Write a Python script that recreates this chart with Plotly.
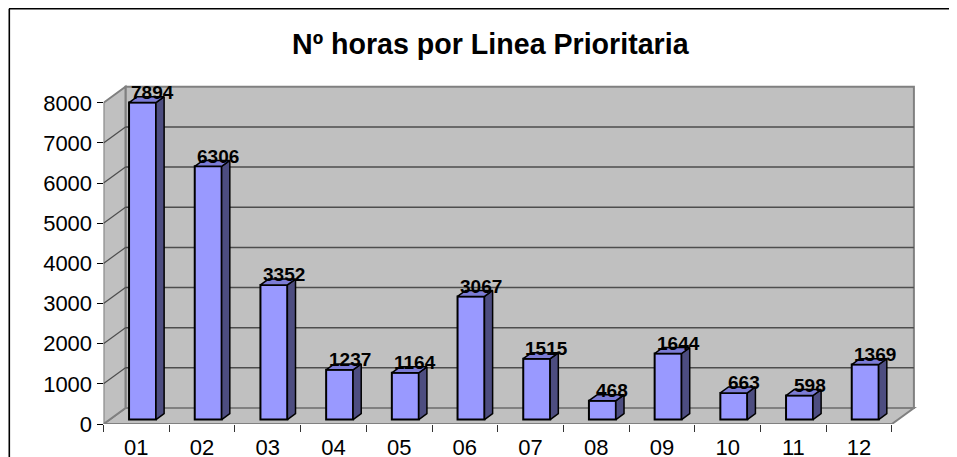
import plotly.graph_objects as go

# ---------------- data ----------------
categories = ["01", "02", "03", "04", "05", "06", "07", "08", "09", "10", "11", "12"]
hours = [7894, 6306, 3352, 1237, 1164, 3067, 1515, 468, 1644, 663, 598, 1369]
y_ticks = [0, 1000, 2000, 3000, 4000, 5000, 6000, 7000, 8000]
title_text = "Nº horas por Linea Prioritaria"

# ---------------- geometry / style ----------------
W, H = 957, 457
# observed placement of the figure in the screenshot (page margin / height)
OX, OY, HE = 7.5, 7.0, 444.0

def fx(sx):
    return (sx - OX) / W

def fy(sy):
    return 1 - (sy - OY) / HE

X0_PX = 103          # front-left floor corner (screen px)
Y0_PX = 423          # front floor edge (screen px)
CAT_PX = 65.7        # px per category
PX_PER_UNIT = 0.04015
DEPTH_PX = (22, 16)  # back wall offset (right, up) in px

FONT = "Liberation Sans, Arial, sans-serif"
WALL = "#C0C0C0"
EDGE = "#808080"
GRID = "#4D4D4D"
BAR_FRONT = "#9999FF"
BAR_SIDE = "#4D4D80"
BAR_TOP = "#7C7CD6"

n = len(categories)
x_range_max = (OX + W - X0_PX) / CAT_PX
y_range_max = (Y0_PX - OY) / PX_PER_UNIT
bdx = DEPTH_PX[0] / CAT_PX
bdy = DEPTH_PX[1] / PX_PER_UNIT
top = max(y_ticks)

bar_d0, bar_d1 = 0.28, 0.65
bar_w = 0.41

xs = [i + 0.5 + bar_d0 * bdx for i in range(n)]
base = bar_d0 * bdy
ddx = (bar_d1 - bar_d0) * bdx
ddy = (bar_d1 - bar_d0) * bdy

fig = go.Figure()

fig.add_trace(go.Bar(
    x=xs, y=hours, base=[base] * n, width=bar_w,
    marker=dict(color=BAR_FRONT, line=dict(color="black", width=2)),
    hovertext=categories, showlegend=False,
))

sx, sy, tx, ty = [], [], [], []
for x, v in zip(xs, hours):
    xl, xr = x - bar_w / 2, x + bar_w / 2
    yb, yt = base, base + v
    sx += [xr, xr + ddx, xr + ddx, xr, xr, None]
    sy += [yb, yb + ddy, yt + ddy, yt, yb, None]
    tx += [xl, xl + ddx, xr + ddx, xr, xl, None]
    ty += [yt, yt + ddy, yt + ddy, yt, yt, None]

fig.add_trace(go.Scatter(x=sx, y=sy, mode="lines", fill="toself", fillcolor=BAR_SIDE,
                         line=dict(color="black", width=1.5), hoverinfo="skip", showlegend=False))
fig.add_trace(go.Scatter(x=tx, y=ty, mode="lines", fill="toself", fillcolor=BAR_TOP,
                         line=dict(color="black", width=1.5), hoverinfo="skip", showlegend=False))

# ---------------- walls & floor ----------------
shapes = []
def poly(pts, fill, line_col=EDGE, width=2):
    path = "M " + " L ".join(f"{x},{y}" for x, y in pts) + " Z"
    shapes.append(dict(type="path", path=path, xref="x", yref="y", layer="below",
                       fillcolor=fill, line=dict(color=line_col, width=width)))

poly([(0, 0), (n, 0), (n + bdx, bdy), (bdx, bdy)], WALL)
poly([(bdx, bdy), (n + bdx, bdy), (n + bdx, top + bdy), (bdx, top + bdy)], WALL)
poly([(0, 0), (bdx, bdy), (bdx, top + bdy), (0, top)], WALL)

for v in y_ticks[1:-1]:
    shapes.append(dict(type="line", xref="x", yref="y", layer="below",
                       x0=bdx, x1=n + bdx, y0=v + bdy, y1=v + bdy,
                       line=dict(color=GRID, width=1.5)))
    shapes.append(dict(type="line", xref="x", yref="y", layer="below",
                       x0=0, x1=bdx, y0=v, y1=v + bdy,
                       line=dict(color=GRID, width=1.2)))

# outer chart border: top and left edges (right/bottom lie outside the picture)
shapes.append(dict(type="line", xref="paper", yref="paper",
                   x0=fx(8.5), x1=1.2, y0=fy(7.8), y1=fy(7.8),
                   line=dict(color="black", width=1.6)))
shapes.append(dict(type="line", xref="paper", yref="paper",
                   x0=fx(8.8), x1=fx(8.8), y0=-0.2, y1=fy(7.8),
                   line=dict(color="black", width=1.6)))

# ---------------- annotations ----------------
annotations = [dict(
    text=title_text, xref="paper", yref="paper", x=fx(490), y=fy(43),
    xanchor="center", yanchor="middle", showarrow=False,
    font=dict(family=FONT, size=28.6, color="black", weight="bold"),
)]
for x, v in zip(xs, hours):
    annotations.append(dict(
        text=str(v), x=x, y=base + v, xref="x", yref="y",
        xanchor="center", yanchor="middle", showarrow=False,
        xshift=10, yshift=10,
        font=dict(family=FONT, size=19, color="black", weight="bold"),
    ))

fig.update_layout(
    width=W, height=H,
    margin=dict(l=0, r=0, t=0, b=0, pad=0),
    paper_bgcolor="white", plot_bgcolor="rgba(0,0,0,0)",
    shapes=shapes, annotations=annotations,
    showlegend=False,
    modebar=dict(bgcolor="rgba(0,0,0,0)", color="rgba(0,0,0,0)",
                 activecolor="rgba(0,0,0,0)"),
    font=dict(family=FONT, size=22, color="black"),
    xaxis=dict(
        domain=[fx(X0_PX), 1], range=[0, x_range_max],
        tickmode="array", tickvals=[i + 0.5 for i in range(n)], ticktext=categories,
        ticks="", showgrid=False, zeroline=False, showline=False,
        ticklabelstandoff=8,
        minor=dict(tickmode="array", tickvals=list(range(n + 1)), ticks="outside",
                   ticklen=7, tickwidth=1, tickcolor="#333333", showgrid=False),
        tickfont=dict(family=FONT, size=22, color="black"),
    ),
    yaxis=dict(
        domain=[fy(Y0_PX), 1], range=[0, y_range_max],
        tickmode="array", tickvals=y_ticks,
        ticks="outside", ticklen=6, tickwidth=1, tickcolor="black",
        showgrid=False, zeroline=False, showline=False,
        tickfont=dict(family=FONT, size=22, color="black"),
    ),
)

fig.write_html("out.html")
